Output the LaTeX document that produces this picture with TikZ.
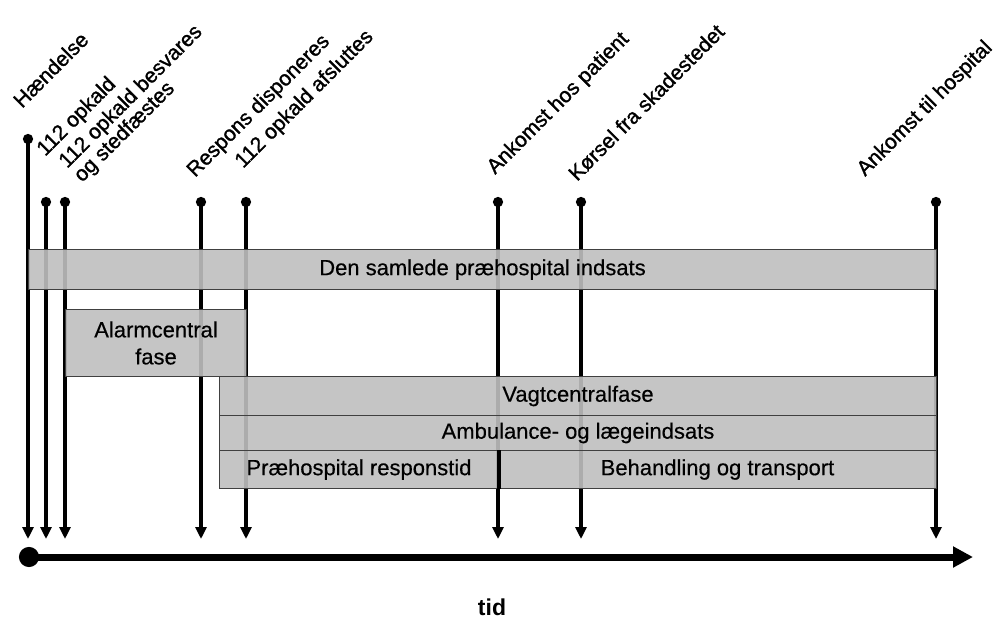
\documentclass[tikz,border=0pt]{standalone}
\usepackage{fontspec}
\setmainfont{Liberation Sans}
\newfontfamily\heavylabel[FakeBold=1.3]{Liberation Sans}
\newfontfamily\boxlabel[FakeBold=0.4]{Liberation Sans}
\usetikzlibrary{arrows.meta}
\definecolor{boxfill}{gray}{0.75}
\definecolor{boxedge}{gray}{0.25}
\begin{document}
\begin{tikzpicture}[x=1pt,y=-1pt,
  evline/.style={line width=3.5pt, {Circle[length=10pt,width=10pt]}-{Triangle[length=12pt,width=11pt]}},
  box/.style={draw=boxedge, line width=1pt, fill=boxfill, fill opacity=0.9, text opacity=1, draw opacity=1,
    inner sep=0pt, anchor=north west, font=\boxlabel\fontsize{22}{27}\selectfont, align=center},
  evlabel/.style={rotate=45, anchor=base west, inner sep=0pt, font=\heavylabel\fontsize{21}{21}\selectfont}]
\useasboundingbox (0,0) rectangle (1003,621);

% event line end points
\coordinate (t1) at (28,134);  \coordinate (b1) at (28,539);
\coordinate (t2) at (46,197);  \coordinate (b2) at (46,539);
\coordinate (t3) at (65,197);  \coordinate (b3) at (65,539);
\coordinate (t4) at (201,197); \coordinate (b4) at (201,539);
\coordinate (t5) at (246,197); \coordinate (b5) at (246,539);
\coordinate (t6) at (498,197); \coordinate (b6) at (498,539);
\coordinate (t7) at (581,197); \coordinate (b7) at (581,539);
\coordinate (t8) at (936,197); \coordinate (b8) at (936,539);

\foreach \i in {1,...,8} { \draw[evline] (t\i) -- (b\i); }

% labels
\node[evlabel] (l1) at (22,109) {Hændelse};
\node[evlabel] (l2) at (45,157) {112 opkald};
\node[evlabel] (l3a) at (67,169) {112 opkald besvares};
\node[evlabel] (l3b) at (82,183) {og stedfæstes};
\node[evlabel] (l4) at (195,178) {Respons disponeres};
\node[evlabel] (l5) at (243,169) {112 opkald afsluttes};
\node[evlabel] (l6) at (495,175) {Ankomst hos patient};
\node[evlabel] (l7) at (577,182) {Kørsel fra skadestedet};
\node[evlabel] (l8) at (865,177) {Ankomst til hospital};

% boxes
\node[box, minimum width=908pt, minimum height=40pt] (all) at (28,249) {Den samlede præhospital indsats};
\node[box, minimum width=181pt, minimum height=67pt] (alarm) at (65,309) {Alarmcentral\\fase};
\node[box, minimum width=717pt, minimum height=39pt] (vagt) at (219,376) {Vagtcentralfase};
\node[box, minimum width=717pt, minimum height=35pt] (amb) at (219,415) {Ambulance- og lægeindsats};
\node[box, minimum width=279pt, minimum height=38pt] (resp) at (219,450) {Præhospital responstid};
\node[box, minimum width=438pt, minimum height=38pt] (beh) at (498,450) {Behandling og transport};
\draw[line width=3.5pt] (resp.north east) -- (resp.south east);

% time axis
\coordinate (ax0) at (19,557);
\coordinate (ax1) at (973,557);
\draw[line width=7pt, {Circle[length=20pt,width=20pt]}-{Triangle[length=20pt,width=20pt]}] (ax0) -- (ax1);
\node[font=\bfseries\fontsize{23}{23}\selectfont, inner sep=0pt] (tid) at (492,607) {tid};
\end{tikzpicture}
\end{document}
